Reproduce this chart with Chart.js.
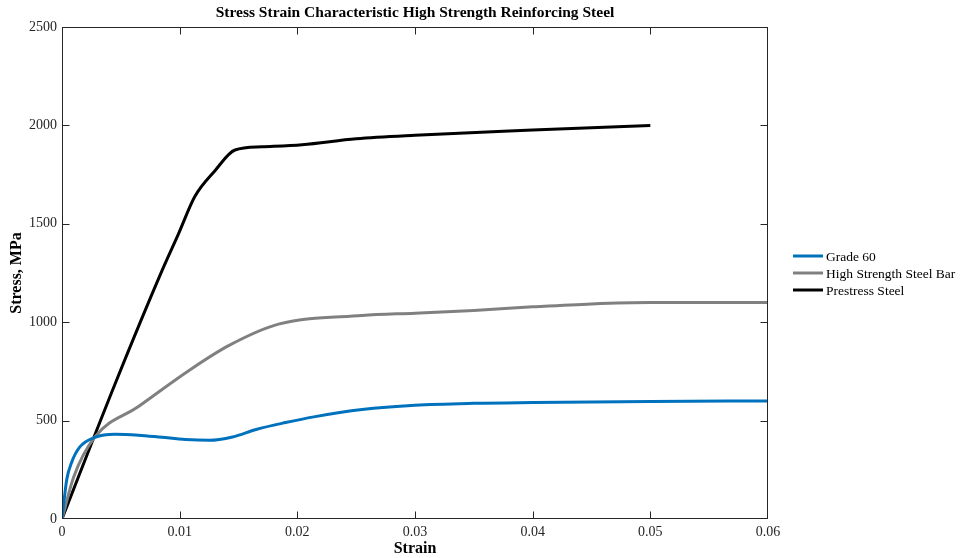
<!DOCTYPE html>
<html>
<head>
<meta charset="utf-8">
<script src="https://cdn.jsdelivr.net/npm/chart.js@4.4.1/dist/chart.umd.min.js"></script>
<style>
  html, body { margin: 0; padding: 0; background: #fff; }
  #wrap { width: 962px; height: 558px; }
</style>
</head>
<body>
<div id="wrap"><canvas id="chart"></canvas></div>
<script>
// values (strain, stress in MPa)
var grade60Strain = [0, 0.0004, 0.0008, 0.0015, 0.0028, 0.0045, 0.0065, 0.0085, 0.0105, 0.0125, 0.0145, 0.0165, 0.019, 0.0214, 0.0255, 0.03, 0.035, 0.04, 0.05, 0.06];
var grade60Stress = [0, 200, 285, 365, 415, 431, 426, 415, 404, 400, 417, 455, 490, 519, 556, 578, 588, 592, 597, 600];

var hsBarStrain = [0, 0.001, 0.0028, 0.0065, 0.0108, 0.0142, 0.0184, 0.0255, 0.03, 0.035, 0.04, 0.045, 0.05, 0.06];
var hsBarStress = [0, 215, 417, 572, 755, 882, 990, 1034, 1046, 1060, 1078, 1093, 1100, 1100];

var prestressStrain = [0, 0.0045, 0.0085, 0.0099, 0.0113, 0.013, 0.0147, 0.017, 0.0204, 0.025, 0.03, 0.04, 0.05];
var prestressStress = [0, 685, 1262, 1449, 1640, 1770, 1875, 1891, 1902, 1932, 1950, 1976, 2000];

var seriesNames = ['Grade 60', 'High Strength Steel Bar', 'Prestress Steel'];
var seriesColors = ['#0072BD', '#808080', '#000000'];

var xTicks = [0, 0.01, 0.02, 0.03, 0.04, 0.05, 0.06];
var xTickLabels = ['0', '0.01', '0.02', '0.03', '0.04', '0.05', '0.06'];
var yTicks = [0, 500, 1000, 1500, 2000, 2500];
var yTickLabels = ['0', '500', '1000', '1500', '2000', '2500'];

function toPoints(xs, ys) {
    var pts = [];
    for (var i = 0; i < xs.length; i++) pts.push({x: xs[i], y: ys[i]});
    return pts;
}

var allSeries = [
    toPoints(grade60Strain, grade60Stress),
    toPoints(hsBarStrain, hsBarStress),
    toPoints(prestressStrain, prestressStress)
];

var datasets = allSeries.map(function(pts, i) {
    return {
        label: seriesNames[i],
        data: pts,
        borderColor: seriesColors[i],
        backgroundColor: seriesColors[i],
        borderWidth: 3,
        pointRadius: 0,
        fill: false,
        cubicInterpolationMode: 'monotone'
    };
});

var serif = '"Liberation Serif", "DejaVu Serif", serif';
Chart.defaults.font.family = serif;
Chart.defaults.color = '#262626';

// MATLAB style box with inward ticks + side legend
var boxPlugin = {
    id: 'boxTicks',
    afterDraw: function(chart) {
        var ctx = chart.ctx, a = chart.chartArea;
        var xs = chart.scales.x, ys = chart.scales.y;
        var len = 7;
        var L = Math.round(a.left) + 0.5, R = Math.round(a.right) - 0.5;
        var T = Math.round(a.top) + 0.5, B = Math.round(a.bottom) - 0.5;
        ctx.save();
        ctx.strokeStyle = '#262626';
        ctx.lineWidth = 1;
        ctx.strokeRect(L, T, R - L, B - T);
        ctx.beginPath();
        xTicks.forEach(function(v) {
            var px = Math.min(Math.max(Math.round(xs.getPixelForValue(v)) + 0.5, L), R);
            ctx.moveTo(px, B); ctx.lineTo(px, B - len);
            ctx.moveTo(px, T); ctx.lineTo(px, T + len);
        });
        yTicks.forEach(function(v) {
            var py = Math.min(Math.max(Math.round(ys.getPixelForValue(v)) + 0.5, T), B);
            ctx.moveTo(L, py); ctx.lineTo(L + len, py);
            ctx.moveTo(R, py); ctx.lineTo(R - len, py);
        });
        ctx.stroke();

        // legend
        var mid = (a.top + a.bottom) / 2;
        var step = 17;
        var lx = a.right + 25;
        ctx.font = '13.5px ' + serif;
        ctx.textBaseline = 'middle';
        ctx.textAlign = 'left';
        chart.data.datasets.forEach(function(ds, i) {
            var y = mid + (i - 1) * step;
            ctx.strokeStyle = ds.borderColor;
            ctx.lineWidth = 3;
            ctx.beginPath();
            ctx.moveTo(lx, y); ctx.lineTo(lx + 30, y);
            ctx.stroke();
            ctx.fillStyle = '#000';
            ctx.fillText(ds.label, lx + 33, y + 1);
        });
        ctx.restore();
    }
};

new Chart(document.getElementById('chart'), {
    type: 'line',
    data: { datasets: datasets },
    options: {
        responsive: true,
        maintainAspectRatio: false,
        animation: false,
        layout: { padding: { left: 0, right: 194, top: 0, bottom: 0 } },
        plugins: {
            legend: { display: false },
            tooltip: { enabled: false },
            title: {
                display: true,
                fullSize: false,
                text: 'Stress Strain Characteristic High Strength Reinforcing Steel',
                color: '#000',
                font: { size: 15.5, weight: 'bold', family: serif },
                padding: { top: 4, bottom: 4.4 }
            }
        },
        scales: {
            x: {
                type: 'linear',
                min: 0,
                max: 0.06,
                afterBuildTicks: function(scale) {
                    scale.ticks = xTicks.map(function(v) { return {value: v}; });
                },
                afterFit: function(scale) { scale.height = 39; },
                ticks: {
                    padding: 5,
                    maxRotation: 0,
                    font: { size: 14 },
                    callback: function(v, i) { return xTickLabels[i]; }
                },
                grid: { display: false, drawTicks: false, tickLength: 0 },
                border: { display: false },
                title: {
                    display: true,
                    text: 'Strain',
                    color: '#000',
                    font: { size: 16, weight: 'bold' },
                    padding: { top: 0, bottom: 0 }
                }
            },
            y: {
                type: 'linear',
                min: 0,
                max: 2500,
                afterBuildTicks: function(scale) {
                    scale.ticks = yTicks.map(function(v) { return {value: v}; });
                },
                afterFit: function(scale) { scale.width = 62; },
                ticks: {
                    padding: 5,
                    font: { size: 14 },
                    callback: function(v, i) { return yTickLabels[i]; }
                },
                grid: { display: false, drawTicks: false, tickLength: 0 },
                border: { display: false },
                title: {
                    display: true,
                    text: 'Stress, MPa',
                    color: '#000',
                    font: { size: 16, weight: 'bold' },
                    padding: { top: 7, bottom: 0 }
                }
            }
        }
    },
    plugins: [boxPlugin]
});
</script>
</body>
</html>
